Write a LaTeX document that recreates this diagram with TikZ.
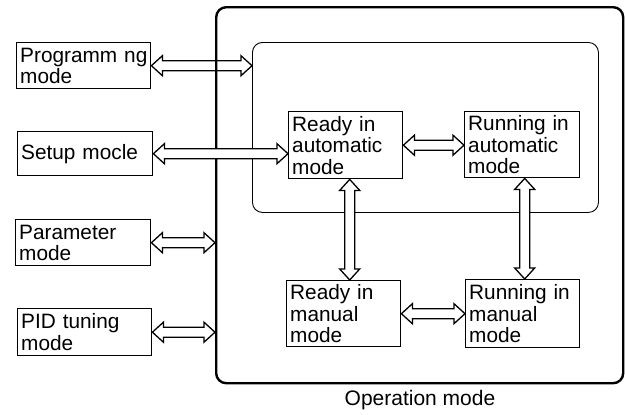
\documentclass[tikz,border=0pt]{standalone}
\usepackage{fontspec}
\setmainfont{Liberation Sans}
\usetikzlibrary{calc}
\newcommand{\boxfnt}{\fontsize{20.8}{21.5}\selectfont}
\tikzset{
  mbox/.style={draw, line width=1.4pt, align=left, inner xsep=3.5pt, inner ysep=0pt, anchor=north west, font=\boxfnt},
  harrow/.style={draw, line width=1.3pt, line join=miter, to path={let \p1=(\tikztostart), \p2=(\tikztotarget) in
    (\x1,\y1) -- ++(11pt,10pt) -- ++(0,-5pt) -- (\x2-11pt,\y1+5pt) -- ++(0,5pt) -- (\x2,\y1)
    -- ++(-11pt,-10pt) -- ++(0,5pt) -- (\x1+11pt,\y1-5pt) -- ++(0,-5pt) -- cycle}},
  varrow/.style={draw, line width=1.3pt, line join=miter, to path={let \p1=(\tikztostart), \p2=(\tikztotarget) in
    (\x1,\y1) -- ++(10pt,-11pt) -- ++(-5pt,0) -- (\x1+5pt,\y2+11pt) -- ++(5pt,0) -- (\x1,\y2)
    -- ++(-10pt,11pt) -- ++(5pt,0) -- (\x1-5pt,\y1-11pt) -- ++(-5pt,0) -- cycle}}
}
\begin{document}
\begin{tikzpicture}[x=1pt,y=-1pt]
\useasboundingbox (0,0) rectangle (625,415);
% outer and inner frames
\node[draw, line width=2.4pt, rounded corners=10pt, minimum width=407pt, minimum height=376pt, inner sep=0pt, anchor=north west] (outer) at (215,6) {};
\node[draw, line width=0.9pt, rounded corners=10pt, minimum width=346pt, minimum height=170pt, inner sep=0pt, anchor=north west] (inner) at (252,42) {};
% left boxes
\node[mbox, text width=127pt, minimum height=46pt] (prog) at (16,42) {\mbox{Programm ng}\\mode};
\node[mbox, text width=128pt, minimum height=44pt] (setup) at (17,131) {\mbox{Setup mocle}};
\node[mbox, text width=128pt, minimum height=46pt] (param) at (15,219) {Parameter\\mode};
\node[mbox, text width=127pt, minimum height=47pt] (pid) at (17,308) {\mbox{PID tuning}\\mode};
% inner boxes
\node[mbox, text width=107pt, minimum height=67pt] (ra) at (288,111) {\mbox{Ready in}\\automatic\\mode};
\node[mbox, text width=108pt, minimum height=66pt] (rna) at (464,111) {\mbox{Running in}\\automatic\\mode};
\node[mbox, text width=107pt, minimum height=66pt] (rm) at (286,280) {\mbox{Ready in}\\manual\\mode};
\node[mbox, text width=107pt, minimum height=68pt] (rnm) at (465,279) {\mbox{Running in}\\manual\\mode};
% label
\node[font=\fontsize{21}{24}\selectfont, anchor=base] (oplabel) at (420,405) {Operation mode};
% arrows
\draw[harrow] (prog.east) to (prog.east -| inner.west);
\draw[harrow, fill=white] (setup.east) to (setup.east -| ra.west);
\draw[harrow, fill=white] (param.east) to (param.east -| outer.west);
\draw[harrow, fill=white] (pid.east) to (pid.east -| outer.west);
\draw[harrow, fill=white] (ra.east) to (ra.east -| rna.west);
\draw[harrow, fill=white] (rm.east) to (rm.east -| rnm.west);
\draw[varrow, fill=white] ([xshift=4pt]ra.south) to ([xshift=4pt]ra.south |- rm.north);
\draw[varrow, fill=white] ([xshift=2.5pt]rna.south) to ([xshift=2.5pt]rna.south |- rnm.north);
\end{tikzpicture}
\end{document}
